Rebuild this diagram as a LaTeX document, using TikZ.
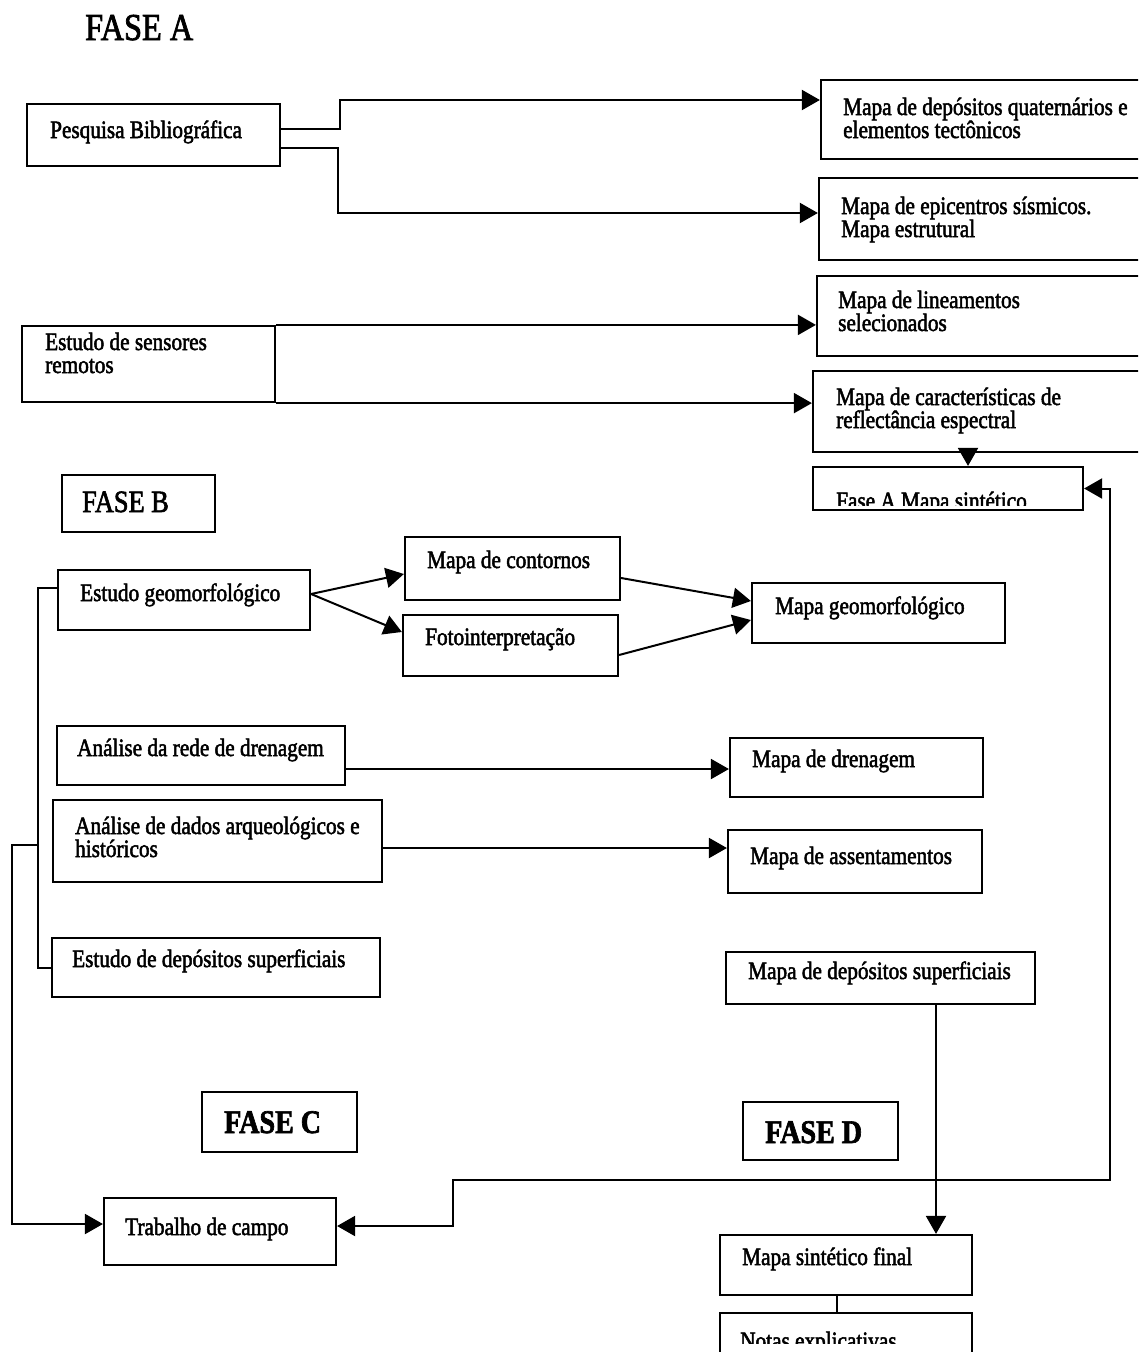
\documentclass[tikz,border=0pt]{standalone}
\usepackage{fontspec}
\setmainfont{Liberation Serif}[FakeStretch=0.85, FakeBold=2]
\usetikzlibrary{arrows.meta,fit}

\tikzset{
  caixa/.style={draw, line width=2.2pt, inner sep=0pt},
  rotulo/.style={inner sep=0pt, anchor=base west, align=left, font=\fontsize{25}{23}\selectfont},
  fase/.style={inner sep=0pt, anchor=base west, font=\fontsize{31}{33}\selectfont},
  fasebold/.style={fase, font=\fontsize{33}{35}\selectfont\bfseries},
  liga/.style={line width=2pt},
  ponta/.tip={Triangle[length=18pt,width=20pt]},
  seta/.style={liga, -ponta},
  setas/.style={liga, ponta-ponta},
}

% box from (x1,y1) to (x2,y2), label whose last line has its baseline at (tx,ty)
\newcommand\caixa[8]{%
  \node[caixa, fit={(#2,#3) (#4,#5)}] (#1) {};
  \node[rotulo] (#1-t) at (#6,#7) {#8};
}

\begin{document}
\begin{tikzpicture}[x=1pt,y=-1pt]
\clip (0,0) rectangle (1138,1352);
\fill[white] (0,0) rectangle (1138,1352);

% ---------- FASE A ----------
\node[fase, font=\fontsize{38}{40}\selectfont] (faseA) at (85,40) {FASE A};

\caixa{pesq}{27}{104}{280}{166}{50}{138}{Pesquisa Bibliográfica}
\caixa{depq}{821}{80}{1150}{159}{843}{138}{Mapa de depósitos quaternários e\\elementos tectônicos}
\caixa{epic}{819}{178}{1150}{260}{841}{237}{Mapa de epicentros sísmicos.\\Mapa estrutural}
\caixa{lin}{817}{276}{1150}{356}{838}{331}{Mapa de lineamentos\\selecionados}
\caixa{refl}{813}{371}{1150}{452}{836}{428}{Mapa de características de\\reflectância espectral}
\caixa{sens}{22}{326}{275}{402}{45}{373}{Estudo de sensores\\remotos}

\node[caixa, fit={(813,467) (1083,510)}] (fasea) {};
\begin{scope}
  \clip (813,467) rectangle (1083,505);
  \node[rotulo] (fasea-t) at (836,509) {Fase A Mapa sintético};
\end{scope}

\coordinate (pesqA) at (340,129);
\coordinate (pesqB) at (338,148);
\draw[seta] (pesq.east |- pesqA) -- (pesqA) |- (depq.west |- 0,100);
\draw[seta] (pesq.east |- pesqB) -- (pesqB) |- (epic.west |- 0,213);
\draw[seta] (sens.north east) -- (lin.west |- sens.north east);
\draw[seta] (sens.south east) -- (refl.west |- sens.south east);
\coordinate (desce) at (968,0);
\draw[seta] (desce |- refl.south) -- (desce |- fasea.north);

% ---------- FASE B ----------
\node[caixa, fit={(62,475) (215,532)}] (faseBbox) {};
\node[fase] (faseB) at (82,512) {FASE B};

\caixa{geo}{58}{570}{310}{630}{80}{601}{Estudo geomorfológico}
\caixa{cont}{405}{537}{620}{600}{427}{568}{Mapa de contornos}
\caixa{foto}{403}{615}{618}{676}{425}{645}{Fotointerpretação}
\caixa{gmf}{752}{583}{1005}{643}{775}{614}{Mapa geomorfológico}
\caixa{dren}{57}{726}{345}{785}{77}{756}{Análise da rede de drenagem}
\caixa{mdren}{730}{738}{983}{797}{752}{767}{Mapa de drenagem}
\caixa{arq}{53}{800}{382}{882}{75}{857}{Análise de dados arqueológicos e\\históricos}
\caixa{assent}{728}{830}{982}{893}{750}{864}{Mapa de assentamentos}
\caixa{dsup}{52}{938}{380}{997}{72}{967}{Estudo de depósitos superficiais}
\caixa{msup}{726}{952}{1035}{1004}{748}{979}{Mapa de depósitos superficiais}

\draw[seta] (geo.east |- 0,594) -- (cont.west |- 0,574);
\draw[seta] (geo.east |- 0,594) -- (foto.west |- 0,632);
\draw[seta] (cont.east |- 0,578) -- (gmf.west |- 0,601);
\draw[seta] (foto.east |- 0,655) -- (gmf.west |- 0,620);
\draw[seta] (dren.east |- 0,769) -- (mdren.west |- 0,769);
\draw[seta] (arq.east |- 0,848) -- (assent.west |- 0,848);

% ---------- FASE C / D ----------
\node[caixa, fit={(202,1092) (357,1152)}] (faseCbox) {};
\node[fasebold] (faseC) at (224,1133) {FASE C};
\node[caixa, fit={(743,1102) (898,1160)}] (faseDbox) {};
\node[fasebold] (faseD) at (765,1143) {FASE D};

\caixa{trab}{104}{1198}{336}{1265}{125}{1235}{Trabalho de campo}
\caixa{final}{720}{1235}{972}{1295}{742}{1265}{Mapa sintético final}

\node[caixa, fit={(720,1313) (972,1380)}] (notas) {};
\begin{scope}
  \clip (720,1313) rectangle (972,1343);
  \node[rotulo] (notas-t) at (740,1349) {Notas explicativas};
\end{scope}

% collector on the left side, feeding the field work
\coordinate (col) at (38,588);
\coordinate (ramo) at (38,845);
\coordinate (ramoB) at (12,845);
\draw[liga] (geo.west |- col) -- (col) |- (dsup.west |- 0,968);
\draw[seta] (ramo) -- (ramoB) |- (trab.west |- 0,1224);

% feedback between field work and the phase A synthesis
\coordinate (ret) at (1110,1180);
\coordinate (retB) at (453,1180);
\draw[setas] (trab.east |- 0,1226) -- (retB |- 0,1226) -- (retB) -- (ret) -- (ret |- fasea.east) -- (fasea.east);

\coordinate (vert) at (936,0);
\draw[seta] (vert |- msup.south) -- (vert |- final.north);
\coordinate (nota) at (837,0);
\draw[liga] (nota |- final.south) -- (nota |- notas.north);

\end{tikzpicture}
\end{document}
